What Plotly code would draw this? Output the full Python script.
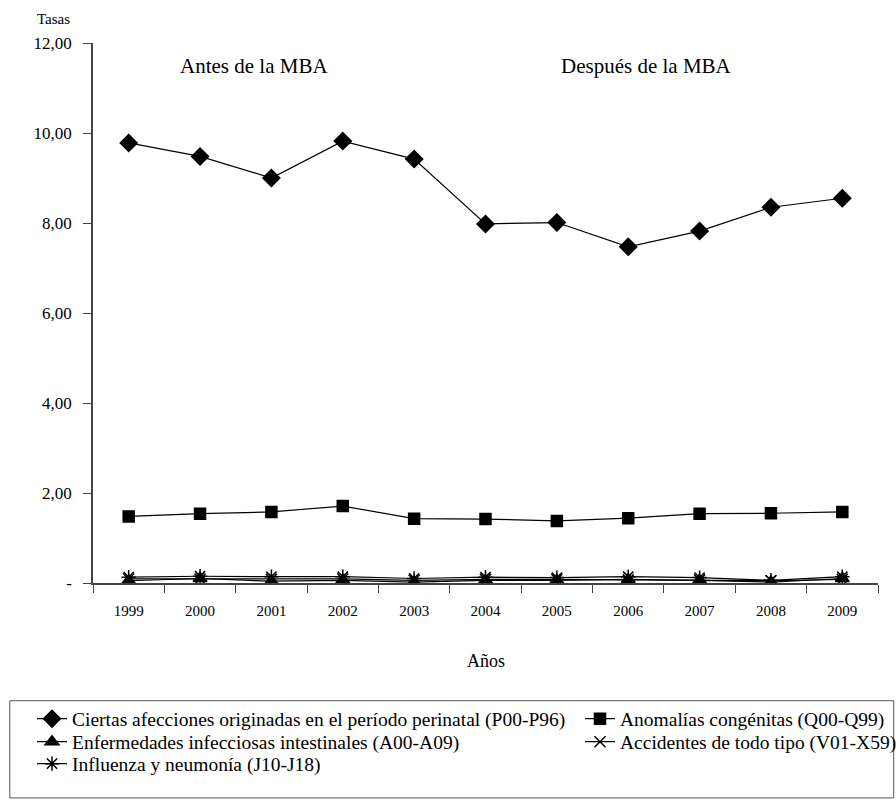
import plotly.graph_objects as go

years = ["1999", "2000", "2001", "2002", "2003", "2004", "2005", "2006", "2007", "2008", "2009"]

perinatal = [9.78, 9.48, 9.00, 9.82, 9.42, 7.98, 8.01, 7.47, 7.82, 8.35, 8.55]
congenitas = [1.48, 1.54, 1.58, 1.71, 1.43, 1.42, 1.38, 1.44, 1.54, 1.55, 1.58]
intestinales = [0.05, 0.10, 0.04, 0.06, 0.02, 0.06, 0.06, 0.08, 0.06, 0.02, 0.10]
accidentes = [0.09, 0.09, 0.08, 0.09, 0.06, 0.08, 0.08, 0.07, 0.07, 0.05, 0.08]
influenza = [0.13, 0.15, 0.14, 0.14, 0.10, 0.13, 0.12, 0.14, 0.12, 0.06, 0.14]

y_ticks = [0, 2, 4, 6, 8, 10, 12]
y_ticktext = ["-", "2,00", "4,00", "6,00", "8,00", "10,00", "12,00"]

names = [
    "Ciertas afecciones originadas en el período perinatal (P00-P96)",
    "Anomalías congénitas (Q00-Q99)",
    "Enfermedades infecciosas intestinales (A00-A09)",
    "Accidentes de todo tipo (V01-X59)",
    "Influenza y neumonía (J10-J18)",
]

FONT = "Liberation Serif"
fig = go.Figure()

series = [
    (names[0], perinatal, "diamond", 13, "legend"),
    (names[1], congenitas, "square", 11, "legend2"),
    (names[2], intestinales, "triangle-up", 12, "legend3"),
    (names[3], accidentes, "x-thin-open", 11, "legend4"),
    (names[4], influenza, "asterisk-open", 12, "legend5"),
]
for name, vals, sym, sz, lg in series:
    fig.add_trace(go.Scatter(
        x=years, y=vals, name=name, mode="lines+markers", legend=lg,
        line=dict(color="black", width=1.2),
        marker=dict(symbol=sym, size=sz, color="black",
                    line=dict(color="black", width=1.5)),
    ))

fig.add_shape(type="line", xref="x", yref="y", x0=years[4], x1=years[4],
              y0=0, y1=12, line=dict(color="black", width=1, dash="12px,8px"))

fig.add_annotation(x=1.75, y=11.5, xref="x", yref="y", text="Antes de la MBA",
                   showarrow=False, font=dict(family=FONT, size=21, color="black"))
fig.add_annotation(x=7.25, y=11.5, xref="x", yref="y", text="Después de la MBA",
                   showarrow=False, font=dict(family=FONT, size=21, color="black"))
fig.add_annotation(x=-0.027, y=1.045, xref="paper", yref="paper", text="Tasas",
                   xanchor="right", yanchor="middle",
                   showarrow=False, font=dict(family=FONT, size=15, color="black"))
fig.add_annotation(x=0.5, y=-0.145, xref="paper", yref="paper", text="Años",
                   yanchor="middle",
                   showarrow=False, font=dict(family=FONT, size=18, color="black"))

# legend box
fig.add_shape(type="rect", xref="paper", yref="paper",
              x0=-0.106, x1=1.02, y0=-0.398, y1=-0.218,
              line=dict(color="#555555", width=1))

leg_common = dict(
    orientation="v", xref="container", yref="container",
    yanchor="middle", xanchor="left",
    font=dict(family=FONT, size=19.5, color="black"),
    bgcolor="rgba(0,0,0,0)", borderwidth=0, tracegroupgap=0,
)
col1_x, col2_x = 32 / 896, 580 / 896
row_y = [1 - 719 / 804, 1 - 742 / 804, 1 - 764 / 804]

fig.update_layout(
    width=896, height=804,
    margin=dict(l=93, r=18, t=43, b=221, autoexpand=False),
    paper_bgcolor="white", plot_bgcolor="white",
    font=dict(family=FONT, size=14, color="black"),
    showlegend=True,
    legend=dict(x=col1_x, y=row_y[0], **leg_common),
    legend2=dict(x=col2_x, y=row_y[0], **leg_common),
    legend3=dict(x=col1_x, y=row_y[1], **leg_common),
    legend4=dict(x=col2_x, y=row_y[1], **leg_common),
    legend5=dict(x=col1_x, y=row_y[2], **leg_common),
    xaxis=dict(
        type="category", range=[-0.5, 10.5], showgrid=False, zeroline=False,
        showline=True, linecolor="#444444", linewidth=1.5,
        ticks="outside", tickson="boundaries", ticklen=8, tickcolor="#444444",
        tickfont=dict(family=FONT, size=15, color="black"), ticklabelstandoff=13,
        automargin=False,
    ),
    yaxis=dict(
        range=[0, 12], tickvals=y_ticks, ticktext=y_ticktext, showgrid=False,
        zeroline=False, showline=True, linecolor="#444444", linewidth=1.5,
        ticks="outside", ticklen=8, tickcolor="#444444",
        tickfont=dict(family=FONT, size=17, color="black"), ticklabelstandoff=8,
        automargin=False,
    ),
)

fig.write_html("out.html", config={"displayModeBar": False},
               post_script="document.body.style.margin='0';")
